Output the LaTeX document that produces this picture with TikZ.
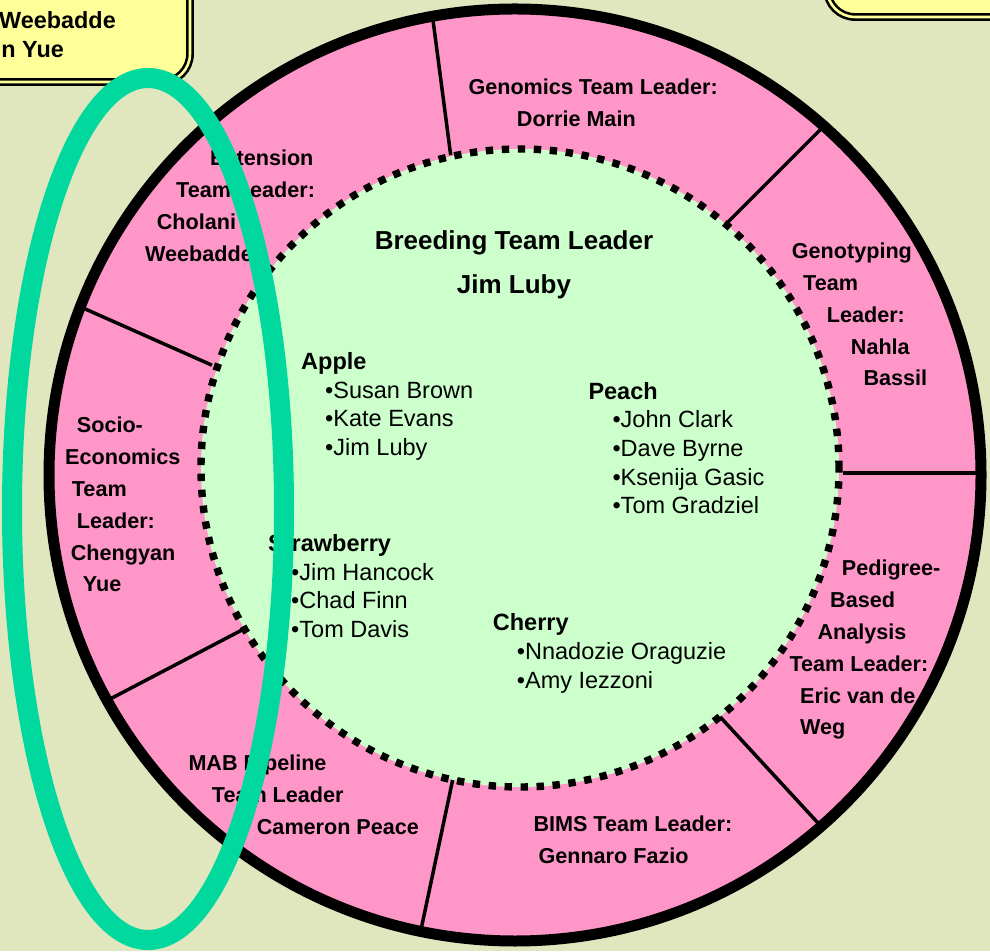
\documentclass[tikz,border=0pt]{standalone}
\usepackage{fontspec}
\setmainfont{Liberation Sans}
\usepackage{tikz}
\usetikzlibrary{calc}
\definecolor{bgolive}{RGB}{224,230,190}
\definecolor{ringpink}{RGB}{255,150,200}
\definecolor{coregreen}{RGB}{204,255,204}
\definecolor{noteyellow}{RGB}{255,255,153}
\definecolor{loopteal}{RGB}{0,216,158}
\tikzset{
  teamlbl/.style={anchor=north west, inner sep=0, align=left, font=\bfseries\fontsize{21.6}{31.8}\selectfont},
  croplbl/.style={anchor=north west, inner sep=0, align=left, font=\fontsize{23.5}{28.6}\selectfont},
  notebox/.style={draw=black, line width=2.6pt, double=noteyellow, double distance=2.6pt, fill=noteyellow, rounded corners=28pt},
  notetxt/.style={anchor=east, inner sep=0, font=\bfseries\fontsize{23.4}{30}\selectfont}
}
\newcommand{\crewitem}{\\\hspace*{24pt}•}

\begin{document}
\begin{tikzpicture}[x=1pt,y=1pt]
\useasboundingbox (0,0) rectangle (990,951);
\clip (0,0) rectangle (990,951);
\fill[bgolive] (0,0) rectangle (990,951);
\coordinate (oc) at (515,476);
\coordinate (ic) at (520,483);
\fill[ringpink] (oc) circle (466pt);
\foreach \ix/\iy/\ox/\oy in {450/801/433/931, 728/729/822/823, 848/478/975/478, 723/231/818/128,
                   452/168/422/26, 242/321/112/253, 207/588/83/643} {
  \draw[line width=3.5pt] ($(\ox,\oy)!1.04!(\ix,\iy)$) -- ($(\ix,\iy)!1.06!(\ox,\oy)$);
}
\fill[coregreen] (ic) circle (319pt);
\draw[line width=7.4pt, dash pattern=on 7.4pt off 8.6pt] (ic) circle (319pt);
\draw[line width=11pt] (oc) circle (466pt);

\node[anchor=north, inner sep=0, align=center, font=\bfseries\fontsize{26}{44}\selectfont] (breeding) at (514,720.4) {Breeding Team Leader\\Jim Luby};
\node[croplbl] (apple) at (301,598.6) {\textbf{Apple}\crewitem Susan Brown\crewitem Kate Evans\crewitem Jim Luby};
\node[croplbl] (peach) at (588.3,568.9) {\textbf{Peach}\crewitem John Clark\crewitem Dave Byrne\crewitem Ksenija Gasic\crewitem Tom Gradziel};
\node[croplbl] (strawberry) at (268,416.6) {\textbf{Strawberry}\\\hspace*{23pt}•Jim Hancock\\\hspace*{23pt}•Chad Finn\\\hspace*{23pt}•Tom Davis};
\node[croplbl] (cherry) at (492.7,337.3) {\textbf{Cherry}\crewitem Nnadozie Oraguzie\crewitem Amy Iezzoni};

\node[teamlbl] (genomics) at (468.3,872.2) {Genomics Team Leader:\\\hspace*{48.4pt}Dorrie Main};
\node[teamlbl] (genotyping) at (791.7,708.2) {Genotyping\\\hspace*{11.3pt}Team\\\hspace*{35pt}Leader:\\\hspace*{59pt}Nahla\\\hspace*{71.6pt}Bassil};
\node[teamlbl] (pedigree) at (789.3,390.9) {\hspace*{52.4pt}Pedigree-\\\hspace*{40.7pt}Based\\\hspace*{28pt}Analysis\\Team Leader:\\\hspace*{10.7pt}Eric van de\\\hspace*{10.7pt}Weg};
\node[teamlbl] (bims) at (533.3,135.6) {BIMS Team Leader:\\\hspace*{5pt}Gennaro Fazio};
\node[teamlbl] (mab) at (188.3,195.9) {MAB Pipeline\\\hspace*{23.4pt}Team Leader\\\hspace*{68.4pt}Cameron Peace};
\node[teamlbl] (socio) at (65,533.9) {\hspace*{11.7pt}Socio-\\Economics\\\hspace*{6.7pt}Team\\\hspace*{11.7pt}Leader:\\\hspace*{5.7pt}Chengyan\\\hspace*{17.7pt}Yue};
\node[teamlbl] (extension) at (145,800.9) {\hspace*{65pt}Extension\\\hspace*{31pt}Team Leader:\\\hspace*{11.7pt}Cholani\\Weebadde};

\draw[notebox] (-40,869) rectangle (190,1000);
\node[notetxt] (extnote) at (116,931) {Weebadde};
\node[notetxt] (socnote) at (64,901) {n Yue};
\draw[notebox] (827,934) rectangle (1040,1000);

\draw[loopteal, line width=20pt] (148,442) ellipse (136pt and 431pt);
\end{tikzpicture}
\end{document}
